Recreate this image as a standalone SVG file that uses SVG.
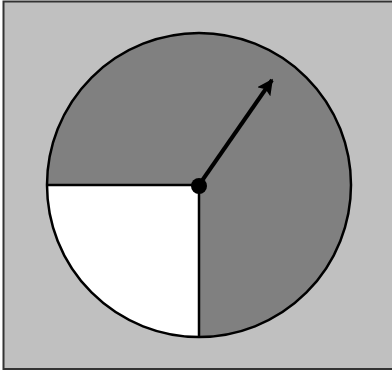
<svg xmlns="http://www.w3.org/2000/svg" width="392" height="372" viewBox="0 0 392 372">
<defs>
<marker id="ah" viewBox="0 0 10 10" refX="9" refY="5" markerWidth="4" markerHeight="4" orient="auto" markerUnits="strokeWidth">
<path d="M0,0 L10,5 L0,10 L2,5 Z" fill="#000"/>
</marker>
<style>
.bg{fill:#c0c0c0;stroke:#333;stroke-width:2}
.edge{stroke:#000;fill:none}
</style>
</defs>
<rect class="bg" x="3.5" y="1.5" width="395" height="367.5"/>
<g id="spinner">
<circle cx="199" cy="185" r="152" fill="#808080"/>
<path d="M199,185 L47,185 A152,152 0 0 0 199,337 Z" fill="#fff"/>
<circle cx="199" cy="185" r="152" fill="none" stroke="#000" stroke-width="2.5"/>
</g>
<g id="connectors">
<line class="edge" x1="199" y1="185" x2="47" y2="185" stroke-width="2.5"/>
<line class="edge" x1="199" y1="185" x2="199" y2="337" stroke-width="2.5"/>
<line class="edge" x1="199" y1="185" x2="272" y2="80" stroke-width="4" marker-end="url(#ah)"/>
</g>
<g id="hub"><circle cx="199" cy="186" r="8" fill="#000"/></g>
</svg>
